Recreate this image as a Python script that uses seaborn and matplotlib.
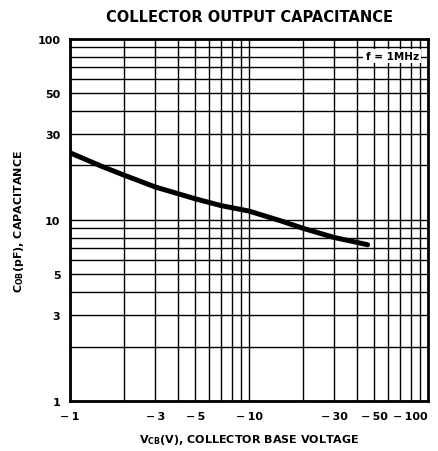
import numpy as np
import pandas as pd
import matplotlib
matplotlib.use("Agg")
import matplotlib.pyplot as plt
import seaborn as sns
from matplotlib.ticker import FixedLocator, LogLocator, NullFormatter

# valeurs (f = 1 MHz)
v_cb = [1, 1.5, 2, 3, 5, 7, 10, 15, 20, 30, 46]
c_ob = [23.5, 19.8, 17.7, 15.2, 13.1, 12.0, 11.2, 9.9, 9.0, 8.0, 7.3]

x_ticks = [1, 3, 5, 10, 30, 50, 100]
x_labels = ["\u2212\u20091", "\u2212\u20093", "\u2212\u20095", "\u2212\u200910",
            "\u2212\u200930", "\u2212\u200950", "\u2212\u2009100"]
y_ticks = [1, 3, 5, 10, 30, 50, 100]
y_labels = ["1", "3", "5", "10", "30", "50", "100"]

df = pd.DataFrame({"vcb": v_cb, "cob": c_ob})

sns.set_style("white")
plt.rcParams["font.family"] = ["DejaVu Sans"]
plt.rcParams["text.color"] = "black"
plt.rcParams["axes.labelcolor"] = "black"
plt.rcParams["xtick.color"] = "black"
plt.rcParams["ytick.color"] = "black"
plt.rcParams["mathtext.fontset"] = "custom"
plt.rcParams["mathtext.rm"] = "DejaVu Sans:bold"
plt.rcParams["mathtext.default"] = "rm"

fig = plt.figure(figsize=(4.38, 4.52), dpi=100)
ax = fig.add_axes([0.160, 0.1106, 0.817, 0.801])

sns.lineplot(data=df, x="vcb", y="cob", ax=ax, color="black", linewidth=3.6)

ax.set_xscale("log")
ax.set_yscale("log")
ax.set_xlim(1, 100)
ax.set_ylim(1, 100)

ax.xaxis.set_major_locator(FixedLocator(x_ticks))
ax.set_xticklabels(x_labels)
ax.yaxis.set_major_locator(FixedLocator(y_ticks))
ax.set_yticklabels(y_labels)
for axis in (ax.xaxis, ax.yaxis):
    axis.set_minor_locator(LogLocator(base=10, subs=np.arange(1, 10), numticks=30))
    axis.set_minor_formatter(NullFormatter())

ax.grid(True, which="both", color="black", linewidth=1.0)
ax.tick_params(which="both", length=0, labelsize=8, pad=7)
for lbl in ax.get_xticklabels() + ax.get_yticklabels():
    lbl.set_fontweight("bold")
ax.get_xticklabels()[-1].set_horizontalalignment("right")

for s in ax.spines.values():
    s.set_color("black")
    s.set_linewidth(2)

ax.text(0.90, 0.953, "f = 1MHz", transform=ax.transAxes, ha="center", va="center",
        fontsize=7.5, fontweight="bold",
        bbox=dict(facecolor="white", edgecolor="none", pad=1.5))

ax.set_xlabel("V$_{CB}$(V), COLLECTOR BASE VOLTAGE", fontsize=8, fontweight="bold", labelpad=8)
ax.set_ylabel("C$_{OB}$(pF), CAPACITANCE", fontsize=8, fontweight="bold", labelpad=8)
fig.suptitle("COLLECTOR OUTPUT CAPACITANCE", x=0.569, y=0.977, fontsize=10.5, fontweight="bold")

fig.savefig("out.png", dpi=100)
plt.close()
